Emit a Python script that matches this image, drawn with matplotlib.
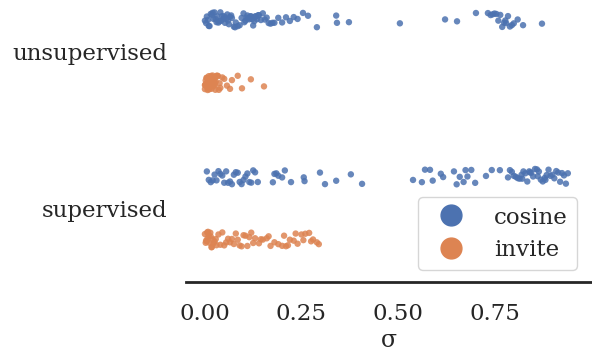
import numpy as np
import pandas as pd
import matplotlib
matplotlib.use("Agg")
import matplotlib.pyplot as plt
import seaborn as sns
from matplotlib.lines import Line2D

settings = ["unsupervised", "supervised"]
methods = ["cosine", "invite"]
xticks = [0.0, 0.25, 0.5, 0.75]
xtick_labels = ["0.00", "0.25", "0.50", "0.75"]

unsup_cosine = [0.0, 0.003, 0.005, 0.008, 0.01, 0.012, 0.015, 0.018, 0.02, 0.022, 0.025, 0.028,
                0.03, 0.032, 0.035, 0.038, 0.04, 0.042, 0.045, 0.048, 0.05, 0.052, 0.055, 0.058,
                0.06, 0.062, 0.065, 0.068, 0.07, 0.075, 0.078, 0.08, 0.085, 0.09, 0.095, 0.1,
                0.102, 0.105, 0.108, 0.11, 0.112, 0.115, 0.118, 0.12, 0.122, 0.125, 0.128, 0.13,
                0.132, 0.135, 0.138, 0.14, 0.145, 0.15, 0.155, 0.16, 0.165, 0.17, 0.175, 0.18,
                0.19, 0.2, 0.21, 0.22, 0.23, 0.24,
                0.254, 0.267, 0.29, 0.34, 0.342, 0.373, 0.505, 0.622, 0.653, 0.702, 0.733,
                0.74, 0.745, 0.75, 0.755, 0.76, 0.765, 0.77, 0.775, 0.778, 0.78, 0.785, 0.79,
                0.795, 0.80, 0.81, 0.824, 0.873]
unsup_invite = [0.0, 0.0, 0.001, 0.002, 0.003, 0.004, 0.005, 0.005, 0.006, 0.007, 0.008, 0.009,
                0.01, 0.01, 0.011, 0.012, 0.013, 0.014, 0.015, 0.015, 0.016, 0.017, 0.018, 0.019,
                0.02, 0.02, 0.021, 0.022, 0.023, 0.024, 0.025, 0.026, 0.027, 0.028, 0.03, 0.032,
                0.034, 0.036, 0.038, 0.04, 0.045, 0.05, 0.057, 0.065, 0.07, 0.085, 0.096, 0.119,
                0.153]
sup_cosine = [0.005, 0.01, 0.015, 0.02, 0.025, 0.03, 0.035, 0.04, 0.045, 0.05, 0.055, 0.06,
              0.065, 0.07, 0.075, 0.08, 0.085, 0.09, 0.095, 0.1, 0.105, 0.11, 0.115, 0.12,
              0.125, 0.13, 0.137, 0.176, 0.18, 0.185, 0.19, 0.2, 0.207, 0.223, 0.256, 0.258,
              0.298, 0.311, 0.34, 0.378, 0.407,
              0.539, 0.562, 0.57, 0.583, 0.59, 0.611, 0.617, 0.645, 0.652, 0.66, 0.67, 0.675,
              0.68, 0.69, 0.70, 0.728, 0.743, 0.764,
              0.785, 0.79, 0.795, 0.80, 0.805, 0.81, 0.815, 0.82, 0.822, 0.825, 0.83, 0.835,
              0.84, 0.842, 0.845, 0.85, 0.855, 0.86, 0.862, 0.865, 0.87, 0.875, 0.88, 0.882,
              0.885, 0.89, 0.895, 0.90, 0.905, 0.91, 0.915, 0.92, 0.925, 0.93, 0.935, 0.94]
sup_invite = [0.0, 0.002, 0.003, 0.005, 0.006, 0.007, 0.008, 0.01, 0.012, 0.014, 0.015, 0.017,
              0.018, 0.02, 0.022, 0.025, 0.028, 0.03, 0.035, 0.04, 0.045, 0.05, 0.055, 0.06,
              0.065, 0.07, 0.075, 0.08, 0.085, 0.09, 0.095, 0.1, 0.105, 0.11, 0.115, 0.12,
              0.125, 0.13, 0.14, 0.145, 0.15, 0.16, 0.165, 0.17, 0.18, 0.19, 0.2, 0.205,
              0.21, 0.215, 0.22, 0.23, 0.235, 0.24, 0.25, 0.255, 0.26, 0.27, 0.275, 0.28,
              0.29, 0.295]

rows = []
for s, m, vals in [("unsupervised", "cosine", unsup_cosine), ("unsupervised", "invite", unsup_invite),
                   ("supervised", "cosine", sup_cosine), ("supervised", "invite", sup_invite)]:
    for v in vals:
        rows.append({"setting": s, "method": m, "sigma": v})
df = pd.DataFrame(rows)

sns.set_theme(style="white")
plt.rcParams["font.family"] = ["DejaVu Serif"]
np.random.seed(3)

fig = plt.figure(figsize=(5.92, 3.54), dpi=100)
# 157 px per category unit; ylim spans 1.97 units
ax = fig.add_axes([186 / 592, (354 - 282) / 354, 405 / 592, 1.97 * 157 / 354])
palette = sns.color_palette("deep")[:2]
sns.stripplot(data=df, x="sigma", y="setting", hue="method", order=settings, hue_order=methods,
              dodge=True, orient="h", palette=palette, size=4.6, alpha=0.85, linewidth=0, ax=ax)
ax.set_ylim(1.47, -0.5)
ax.set_xlim(-0.049, 1.0)
ax.set_xticks(xticks)
ax.set_xticklabels(xtick_labels)
ax.set_ylabel("")
ax.set_xlabel("σ", fontsize=17, color="#262626", labelpad=3)
ax.tick_params(axis="x", labelsize=16.5, colors="#262626", length=0, pad=15)
ax.tick_params(axis="y", labelsize=16.5, colors="#262626", length=0, pad=13.5)
for lbl in ax.get_yticklabels():
    lbl.set_va("center_baseline")
for sp in ["left", "right", "top"]:
    ax.spines[sp].set_visible(False)
ax.spines["bottom"].set_color("#262626")
ax.spines["bottom"].set_linewidth(2)

handles = [Line2D([], [], marker="o", linestyle="", color=c, markersize=15) for c in palette]
leg = ax.legend(handles, methods, loc="lower right", bbox_to_anchor=(577 / 592, 1 - 270 / 354),
                bbox_transform=fig.transFigure, borderaxespad=0, fontsize=16.5, frameon=True,
                handletextpad=0.9, labelspacing=0.45)
leg.get_frame().set_edgecolor("#cccccc")
for t in leg.get_texts():
    t.set_color("#262626")

fig.savefig("out.png", dpi=100)
